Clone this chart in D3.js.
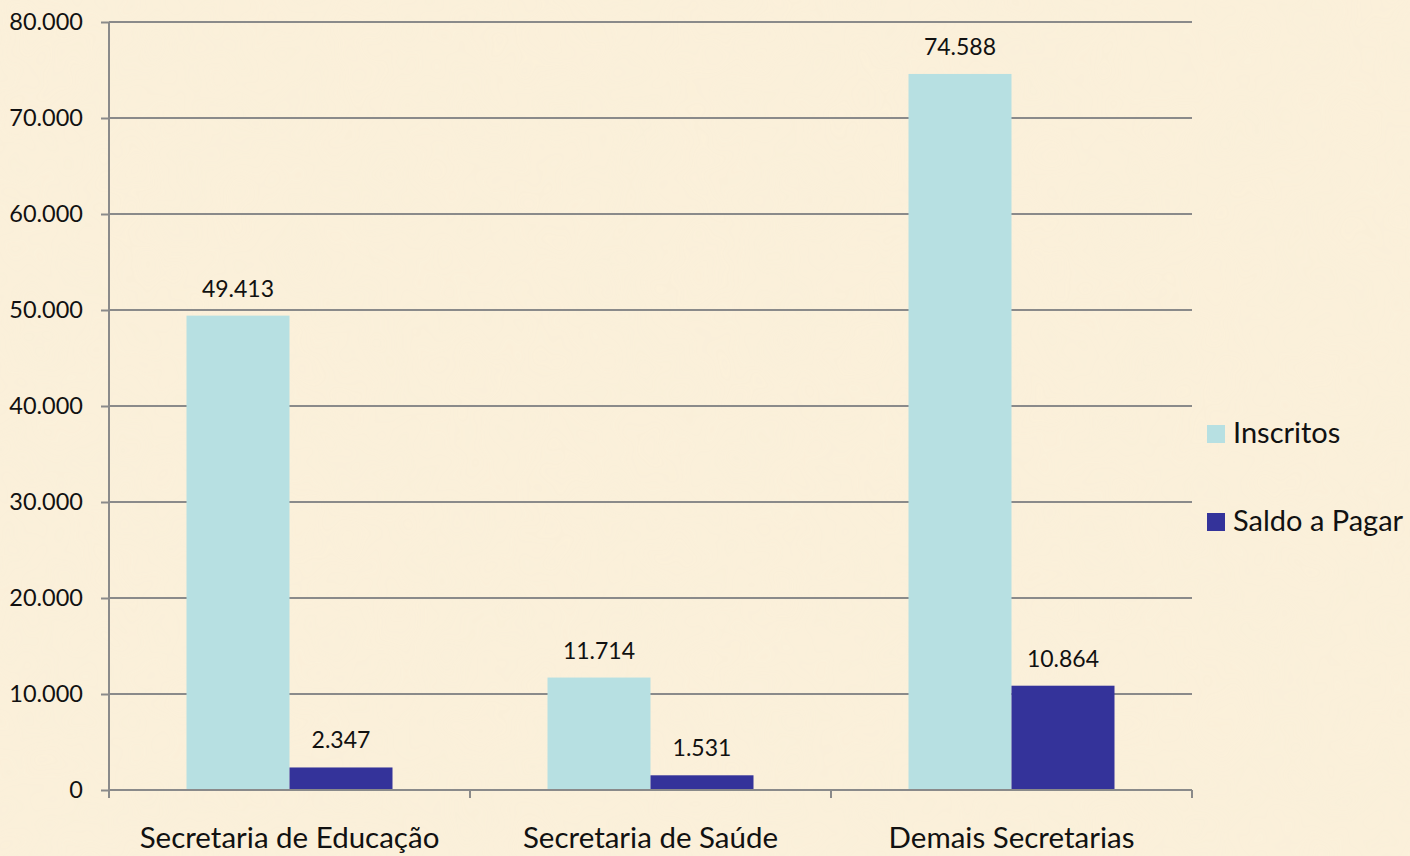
<!DOCTYPE html>
<html>
<head>
<meta charset="utf-8">
<script src="https://cdn.jsdelivr.net/npm/d3@7"></script>
<style>
  body { margin: 0; background: #fbf0da; }
  svg { display: block; font-family: Lato, "Open Sans", sans-serif; }
</style>
</head>
<body>
<svg id="chart" width="1410" height="856"></svg>
<script>
// Chart data
const categories = ['Secretaria de Educação', 'Secretaria de Saúde', 'Demais Secretarias'];
const seriesNames = ['Inscritos', 'Saldo a Pagar'];
const inscritos = [49413, 11714, 74588];
const saldoAPagar = [2347, 1531, 10864];
const yTicks = [0, 10000, 20000, 30000, 40000, 50000, 60000, 70000, 80000];
const colors = ['#b7e0e2', '#34339a'];

const svg = d3.select('#chart');
const width = 1410, height = 856;

// Parchment-like background
const defs = svg.append('defs');
const filter = defs.append('filter').attr('id', 'paper').attr('x', 0).attr('y', 0).attr('width', '100%').attr('height', '100%');
filter.append('feTurbulence').attr('type', 'fractalNoise').attr('baseFrequency', 0.012).attr('numOctaves', 3).attr('seed', 4);
filter.append('feColorMatrix').attr('type', 'matrix')
  .attr('values', '0 0 0 0 0.93  0 0 0 0 0.86  0 0 0 0 0.70  0 0 0 0.45 -0.05');
svg.append('rect').attr('width', width).attr('height', height).attr('fill', '#fbf0da');
svg.append('rect').attr('width', width).attr('height', height).attr('filter', 'url(#paper)').attr('opacity', 0.6);

const margin = { top: 22, right: 218, bottom: 66, left: 109 };
const innerW = width - margin.left - margin.right;
const innerH = height - margin.top - margin.bottom;

const chart = svg.append('g').attr('transform', `translate(${margin.left},${margin.top})`);

const x = d3.scaleBand().domain(categories).range([0, innerW]).paddingInner(0).paddingOuter(0);
const xInner = d3.scaleBand().domain(seriesNames).range([77.5, x.bandwidth() - 77.5]);
const y = d3.scaleLinear().domain([0, 80000]).range([innerH, 0]);

const fmt = (v) => d3.format(',')(v).replace(/,/g, '.');

// Gridlines
chart.append('g')
  .selectAll('line')
  .data(yTicks.filter((d) => d > 0))
  .join('line')
  .attr('x1', 0).attr('x2', innerW)
  .attr('y1', (d) => y(d)).attr('y2', (d) => y(d))
  .attr('stroke', '#8a8a8a').attr('stroke-width', 2);

// Y axis
const yAxis = chart.append('g')
  .call(d3.axisLeft(y).tickValues(yTicks).tickSize(8).tickPadding(18).tickFormat(fmt));
yAxis.select('.domain').attr('stroke', '#8a8a8a').attr('stroke-width', 2).attr('d', `M0,${innerH}V0`);
yAxis.selectAll('.tick line').attr('stroke', '#8a8a8a').attr('stroke-width', 2);
yAxis.selectAll('.tick text').attr('font-size', 23.5).attr('fill', '#111').attr('font-family', 'Lato, sans-serif');

// Bars
const rows = categories.map((c, i) => ({ cat: c, values: [inscritos[i], saldoAPagar[i]] }));
const groups = chart.selectAll('.grp')
  .data(rows)
  .join('g')
  .attr('class', 'grp')
  .attr('transform', (d) => `translate(${x(d.cat)},0)`);

groups.selectAll('rect')
  .data((d) => d.values.map((v, j) => ({ name: seriesNames[j], value: v, j })))
  .join('rect')
  .attr('x', (d) => xInner(d.name))
  .attr('width', xInner.bandwidth())
  .attr('y', (d) => y(d.value))
  .attr('height', (d) => innerH - y(d.value))
  .attr('fill', (d) => colors[d.j]);

groups.selectAll('text.val')
  .data((d) => d.values.map((v, j) => ({ name: seriesNames[j], value: v })))
  .join('text')
  .attr('class', 'val')
  .attr('x', (d) => xInner(d.name) + xInner.bandwidth() / 2)
  .attr('y', (d) => y(d.value) - 19)
  .attr('text-anchor', 'middle')
  .attr('font-size', 23)
  .attr('fill', '#111')
  .text((d) => fmt(d.value));

// X axis
const xAxis = chart.append('g')
  .attr('transform', `translate(0,${innerH})`)
  .call(d3.axisBottom(x).tickSize(0).tickPadding(37));
xAxis.select('.domain').attr('stroke', '#8a8a8a').attr('stroke-width', 2).attr('d', `M0,0H${innerW}`);
xAxis.selectAll('.tick text').attr('font-size', 29.5).attr('fill', '#111').attr('font-family', 'Lato, sans-serif');
// Category separators
xAxis.append('g').selectAll('line')
  .data(d3.range(categories.length + 1))
  .join('line')
  .attr('x1', (i) => i * x.step()).attr('x2', (i) => i * x.step())
  .attr('y1', 0).attr('y2', 8)
  .attr('stroke', '#8a8a8a').attr('stroke-width', 2);

// Legend
const legend = svg.append('g').attr('transform', 'translate(1207,425)');
const item = legend.selectAll('g')
  .data(seriesNames)
  .join('g')
  .attr('transform', (d, i) => `translate(0,${i * 88})`);
item.append('rect').attr('width', 18).attr('height', 18).attr('fill', (d, i) => colors[i]);
item.append('text').attr('x', 26).attr('y', 18).attr('font-size', 29).attr('fill', '#111').text((d) => d);
</script>
</body>
</html>
